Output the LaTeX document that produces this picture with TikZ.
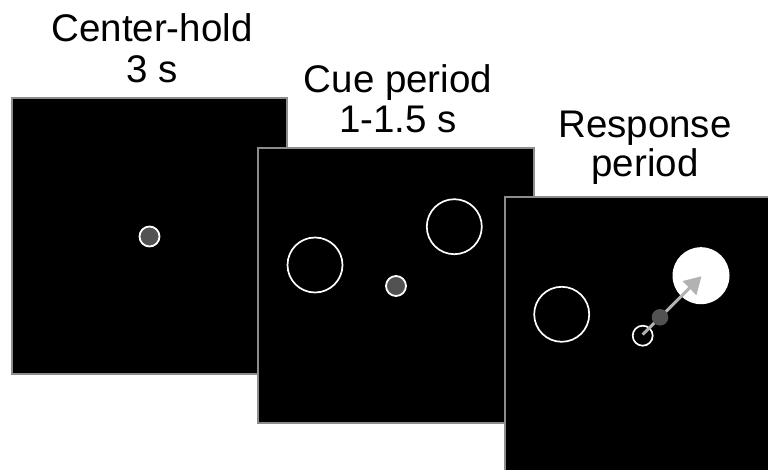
\documentclass[tikz,border=0pt]{standalone}
\usepackage{fontspec}
\setmainfont{Liberation Sans}
\usetikzlibrary{arrows.meta}
\definecolor{framegray}{HTML}{8C8C8C}
\definecolor{dotgray}{HTML}{525252}
\definecolor{arrowgray}{HTML}{B2B2B2}
\tikzset{
  screen/.style={fill=black, draw=framegray, line width=1.2bp},
  target/.style={draw=white, line width=1.7bp},
  fixdot/.style={fill=dotgray, draw=white, line width=1.8bp},
  label/.style={anchor=base, inner sep=0pt, font=\fontsize{38.5bp}{40bp}\selectfont},
}
\begin{document}
\begin{tikzpicture}[x=1bp, y=-1bp]
  \useasboundingbox (0,0) rectangle (768,470);

  % Panel 1: center-hold
  \node[label] (t1a) at (152,42) {Center-hold};
  \node[label] (t1b) at (152,82.5) {3 s};
  \draw[screen] (12,98) rectangle (287,374);
  \draw[fixdot] (149.5,236.5) circle (10);

  % Panel 2: cue period
  \node[label] (t2a) at (398,93) {Cue period};
  \node[label] (t2b) at (398,132.5) {1-1.5 s};
  \draw[screen] (258,148) rectangle (534,423);
  \draw[target] (315,265) circle (27.5);
  \draw[target] (454.3,226.7) circle (27.5);
  \draw[fixdot] (396,286) circle (10);

  % Panel 3: response period
  \node[label] (t3a) at (645,137.3) {Response};
  \node[label] (t3b) at (645,177) {period};
  \draw[screen] (505,197) rectangle (781,473);
  \draw[target] (561.7,314.3) circle (27.5);
  \fill[white] (701,275.7) circle (28.5);
  \draw[target] (642.7,335.7) circle (10);
  \coordinate (start) at (642.7,334.5);
  \coordinate (goal) at (701.5,276.2);
  \draw[arrowgray, line width=3bp, -{Triangle[length=17bp, width=19bp]}] (start) -- (goal);
  \fill[dotgray] (660,317.3) circle (8.3);
\end{tikzpicture}
\end{document}
